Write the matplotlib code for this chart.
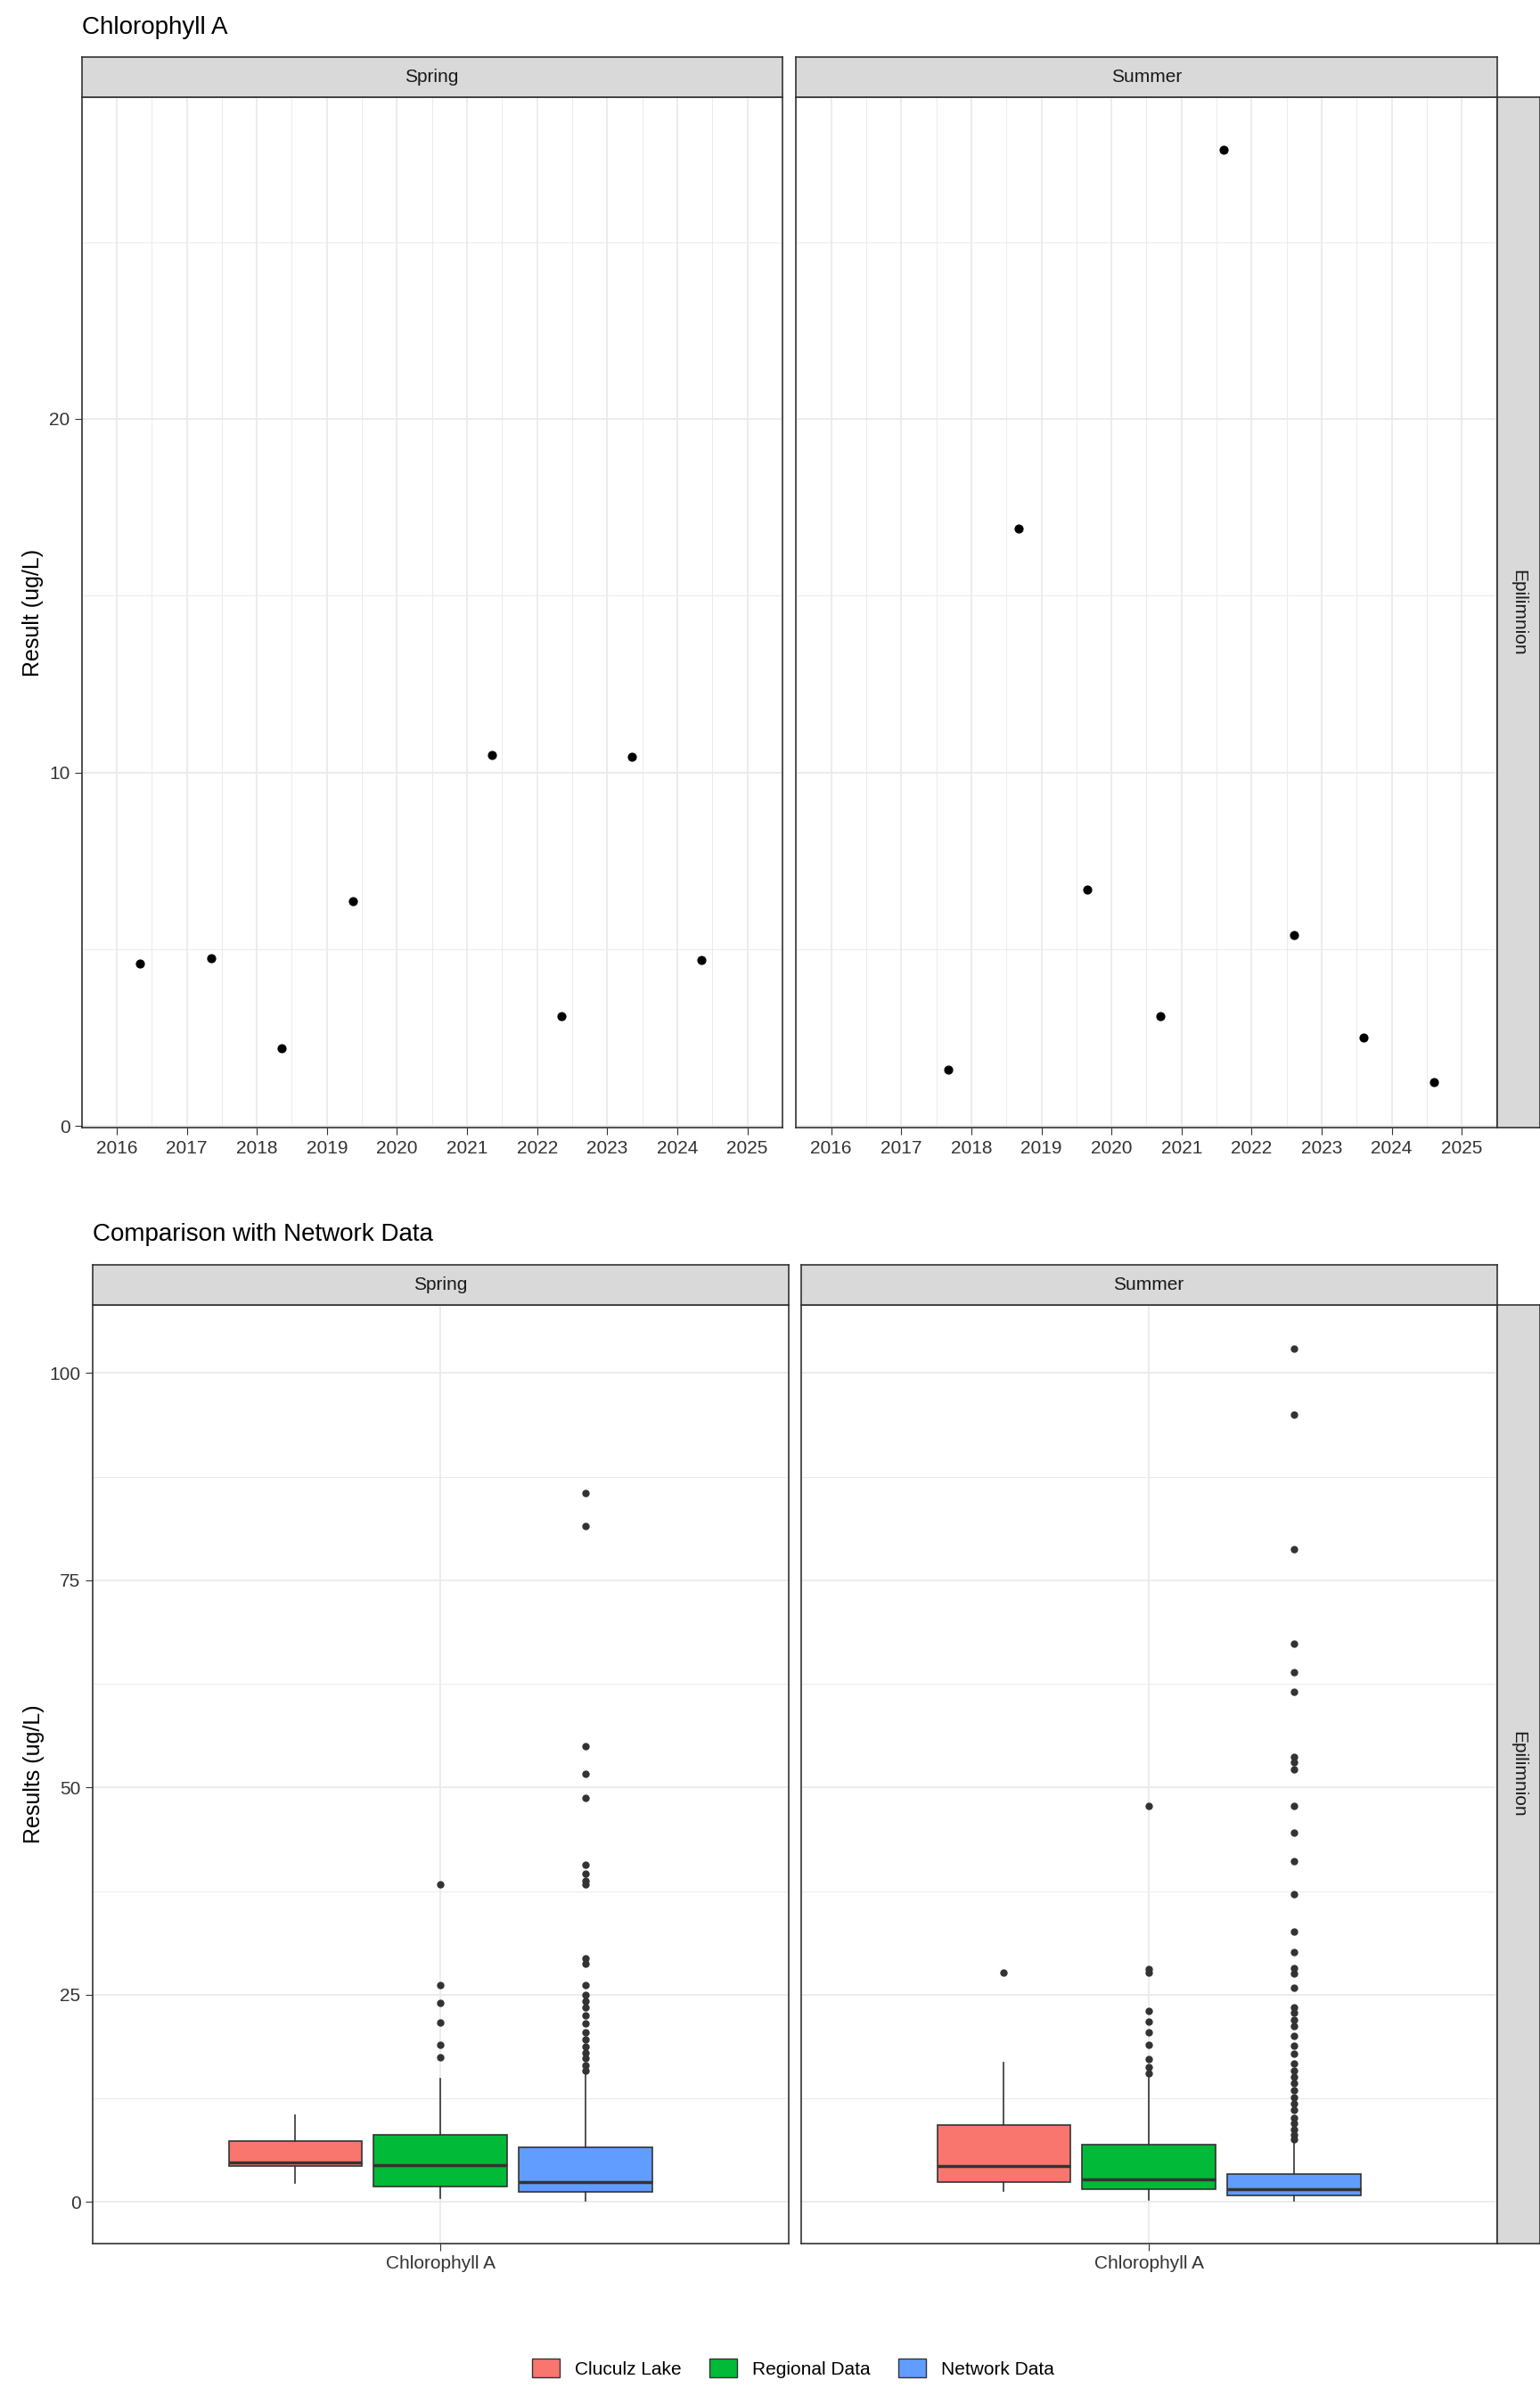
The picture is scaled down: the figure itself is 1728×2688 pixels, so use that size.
import matplotlib
matplotlib.use("Agg")
import matplotlib.pyplot as plt
from matplotlib.patches import Rectangle, Patch
import numpy as np

plt.rcParams["font.family"] = "Liberation Sans"

spring_x = [2016.33, 2017.35, 2018.35, 2019.37, 2021.35, 2022.35, 2023.35, 2024.35]
spring_y = [4.6, 4.75, 2.2, 6.35, 10.5, 3.1, 10.45, 4.7]
summer_x = [2017.67, 2018.67, 2019.65, 2020.7, 2021.6, 2022.6, 2023.6, 2024.6]
summer_y = [1.6, 16.9, 6.7, 3.1, 27.6, 5.4, 2.5, 1.25]
years = list(range(2016, 2026))

groups = ["Cluculz Lake", "Regional Data", "Network Data"]
colors = ["#F8766D", "#00BA38", "#619CFF"]
# (whislo, q1, med, q3, whishi, outliers)
spring_stats = [
    (2.3, 4.3, 4.8, 7.4, 10.5, []),
    (0.5, 1.9, 4.4, 8.1, 14.9, [38.3, 26.2, 24.0, 21.6, 19.0, 17.5]),
    (0.1, 1.2, 2.4, 6.6, 15.3, [85.5, 81.6, 55.0, 51.7, 48.8, 40.7, 39.6, 38.8, 38.3, 29.4, 28.7, 26.2,
                                25.0, 24.2, 23.5, 22.5, 21.5, 20.5, 19.6, 18.8, 18.0, 17.3, 16.5, 15.8]),
]
summer_stats = [
    (1.3, 2.4, 4.3, 9.3, 16.8, [27.7]),
    (0.3, 1.5, 2.7, 6.9, 15.0, [47.8, 28.1, 27.7, 23.0, 21.8, 20.5, 19.0, 17.2, 16.3, 15.5]),
    (0.1, 0.8, 1.5, 3.4, 7.5, [102.9, 95.0, 78.7, 67.4, 63.9, 61.6, 53.7, 53.1, 52.2, 47.8, 44.6, 41.1,
                               37.1, 32.6, 30.2, 28.2, 27.6, 25.8, 23.5, 22.8, 22.0, 21.2, 20.0, 18.9,
                               17.9, 16.7, 15.9, 15.1, 14.3, 13.5, 12.6, 11.9, 11.1, 10.2, 9.5, 8.8, 8.1, 7.6]),
]

W, H = 1000.0, 1555.0
fig = plt.figure(figsize=(17.28, 26.88), dpi=100)

def ax_at(x0, y0, x1, y1):
    return fig.add_axes([x0 / W, 1 - y1 / H, (x1 - x0) / W, (y1 - y0) / H])

def strip_top(x0, x1, y0, y1, text):
    a = ax_at(x0, y0, x1, y1)
    a.set_facecolor("#D9D9D9")
    a.set_xticks([]); a.set_yticks([])
    for s in a.spines.values():
        s.set_color("#333333"); s.set_linewidth(1.2)
    a.text(0.5, 0.5, text, ha="center", va="center", fontsize=15, color="#1A1A1A", transform=a.transAxes)

def strip_right(x0, x1, y0, y1, text):
    a = ax_at(x0, y0, x1, y1)
    a.set_facecolor("#D9D9D9")
    a.set_xticks([]); a.set_yticks([])
    for s in a.spines.values():
        s.set_color("#333333"); s.set_linewidth(1.2)
    a.text(0.5, 0.5, text, ha="center", va="center", rotation=-90, fontsize=15, color="#1A1A1A", transform=a.transAxes)

def style(a):
    for s in a.spines.values():
        s.set_color("#333333"); s.set_linewidth(1.2)
    a.tick_params(labelsize=15, colors="#333333", length=6)
    a.tick_params(which="minor", length=0)
    a.set_axisbelow(True)
    a.grid(True, which="major", color="#EBEBEB", lw=1.3)
    a.grid(True, which="minor", color="#EBEBEB", lw=0.7)

# Top panels
for i, (xs, ys, x0, x1, lab) in enumerate([(spring_x, spring_y, 53, 508, "Spring"),
                                           (summer_x, summer_y, 517, 972, "Summer")]):
    a = ax_at(x0, 63, x1, 732)
    style(a)
    a.scatter(xs, ys, s=40, color="black", zorder=3)
    a.set_xlim(2015.59, 2025.43)
    a.set_ylim(-0.05, 29.1)
    a.set_xticks(years)
    a.set_xticklabels([str(y) for y in years])
    a.set_xticks(np.arange(2015.5, 2025.6, 1.0), minor=True)
    a.set_yticks([0, 10, 20])
    a.set_yticks([5, 15, 25], minor=True)
    if i == 0:
        a.set_ylabel("Result (ug/L)", fontsize=18)
    else:
        a.set_yticklabels([])
        a.tick_params(axis="y", length=0)
    strip_top(x0, x1, 37, 63, lab)
strip_right(972, 1000, 63, 732, "Epilimnion")
fig.text(53 / W, 1 - 18 / H, "Chlorophyll A", fontsize=20, ha="left", va="center")

# Bottom panels
offsets = [-0.25, 0.0, 0.25]
for i, (stats, x0, x1, lab) in enumerate([(spring_stats, 60, 512, "Spring"),
                                          (summer_stats, 520, 972, "Summer")]):
    a = ax_at(x0, 847, x1, 1456)
    style(a)
    bx = []
    for st in stats:
        bx.append(dict(whislo=st[0], q1=st[1], med=st[2], q3=st[3], whishi=st[4], fliers=st[5]))
    bp = a.bxp(bx, positions=[1 + o for o in offsets], widths=0.23, patch_artist=True,
               showcaps=False,
               medianprops=dict(color="#333333", lw=2.5),
               whiskerprops=dict(color="#333333", lw=1.2),
               boxprops=dict(edgecolor="#333333", lw=1.2),
               flierprops=dict(marker="o", markerfacecolor="#333333", markeredgecolor="#333333", markersize=5))
    for p, c in zip(bp["boxes"], colors):
        p.set_facecolor(c)
    a.set_xlim(0.4, 1.6)
    a.set_ylim(-5.0, 108.2)
    a.set_xticks([1])
    a.set_xticklabels(["Chlorophyll A"])
    a.set_yticks([0, 25, 50, 75, 100])
    a.set_yticks([12.5, 37.5, 62.5, 87.5], minor=True)
    a.grid(False, axis="x", which="minor")
    if i == 0:
        a.set_ylabel("Results (ug/L)", fontsize=18)
    else:
        a.set_yticklabels([])
        a.tick_params(axis="y", length=0)
    strip_top(x0, x1, 821, 847, lab)
strip_right(972, 1000, 847, 1456, "Epilimnion")
fig.text(60 / W, 1 - 801 / H, "Comparison with Network Data", fontsize=20, ha="left", va="center")

handles = [Patch(facecolor=c, edgecolor="#333333", label=g) for g, c in zip(groups, colors)]
fig.legend(handles=handles, loc="center", bbox_to_anchor=(515 / W, 1 - 1537 / H), ncol=3,
           frameon=False, fontsize=15, handlelength=1.5, handleheight=1.2, columnspacing=1.5)

fig.savefig("out.png", dpi=100, facecolor="white")
